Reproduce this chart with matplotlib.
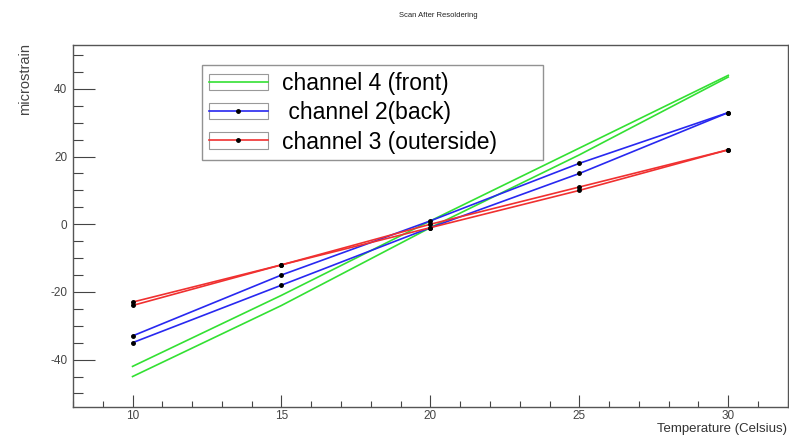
import numpy as np
from matplotlib import pyplot as plt
from matplotlib.patches import Patch
from matplotlib.lines import Line2D

plt.rcParams['font.family'] = ['Liberation Sans', 'DejaVu Sans']
plt.rcParams['axes.unicode_minus'] = False

# temperature points of the scan
temps = [10, 15, 20, 25, 30]

# two runs per channel (microstrain)
ch4_front_a = [-42, -21, 1, 22.5, 44]
ch4_front_b = [-45, -24, -1, 20.5, 43.5]
ch2_back_a = [-33, -15, 1, 18, 33]
ch2_back_b = [-35, -18, -1, 15, 33]
ch3_out_a = [-23, -12, 0, 11, 22]
ch3_out_b = [-24, -12, -1, 10, 22]

labels = ["channel 4 (front)", " channel 2(back)", "channel 3 (outerside)"]

green = '#33e033'
blue = '#2828f0'
red = '#f03030'

fig = plt.figure(figsize=(7.89, 4.40), dpi=100)
ax = fig.add_axes([0.0925, 0.075, 0.906, 0.823])

# green has no markers
ax.plot(temps, ch4_front_a, color=green, lw=1.2)
ax.plot(temps, ch4_front_b, color=green, lw=1.2)
ax.plot(temps, ch2_back_a, color=blue, lw=1.2, marker='o', ms=2.5, mfc='k', mec='k')
ax.plot(temps, ch2_back_b, color=blue, lw=1.2, marker='o', ms=2.5, mfc='k', mec='k')
ax.plot(temps, ch3_out_a, color=red, lw=1.2, marker='o', ms=2.5, mfc='k', mec='k')
ax.plot(temps, ch3_out_b, color=red, lw=1.2, marker='o', ms=2.5, mfc='k', mec='k')

ax.set_xlim(8, 32)
ax.set_ylim(-54, 53)

# ROOT-ish ticks: inside, major + minor
ax.set_xticks([10, 15, 20, 25, 30])
ax.set_xticks(np.arange(8, 33, 1), minor=True)
ax.set_yticks([-40, -20, 0, 20, 40])
ax.set_yticks(np.arange(-50, 55, 5), minor=True)
ax.tick_params(axis='x', which='major', direction='in', length=9, width=0.8, labelsize=8.5, colors='#444444', pad=2.5)
ax.tick_params(axis='x', which='minor', direction='in', length=4.5, width=0.8, colors='#444444')
ax.tick_params(axis='y', which='major', direction='in', length=16, width=0.8, labelsize=8.5, colors='#444444', pad=4)
ax.tick_params(axis='y', which='minor', direction='in', length=7, width=0.8, colors='#444444')
for s in ax.spines.values():
    s.set_color('#555555')
    s.set_linewidth(1.0)

fig.text(0.555, 0.965, "Scan After Resoldering", ha='center', va='center', fontsize=5.5, color='#222222')
fig.text(0.032, 0.902, "microstrain", rotation=90, ha='center', va='top', fontsize=10.5, color='#444444')
fig.text(0.998, 0.024, "Temperature (Celsius)", ha='right', va='center', fontsize=9.5, color='#333333')

# legend with boxed handles like ROOT
box = lambda: Patch(facecolor='white', edgecolor='#999999', lw=0.8)
h1 = (box(), Line2D([], [], color=green, lw=1.2))
h2 = (box(), Line2D([], [], color=blue, lw=1.2, marker='o', ms=2.5, mfc='k', mec='k'))
h3 = (box(), Line2D([], [], color=red, lw=1.2, marker='o', ms=2.5, mfc='k', mec='k'))
leg = ax.legend([h1, h2, h3], labels, loc='upper left', bbox_to_anchor=(0.180, 0.0, 0.477, 0.945),
                mode='expand', fontsize=16.5, frameon=True, fancybox=False, edgecolor='#777777',
                handlelength=2.6, handleheight=0.7, handletextpad=0.6, labelspacing=0.28,
                borderpad=0.3, borderaxespad=0)
leg.get_frame().set_linewidth(1.0)

fig.savefig('out.png', dpi=100)
